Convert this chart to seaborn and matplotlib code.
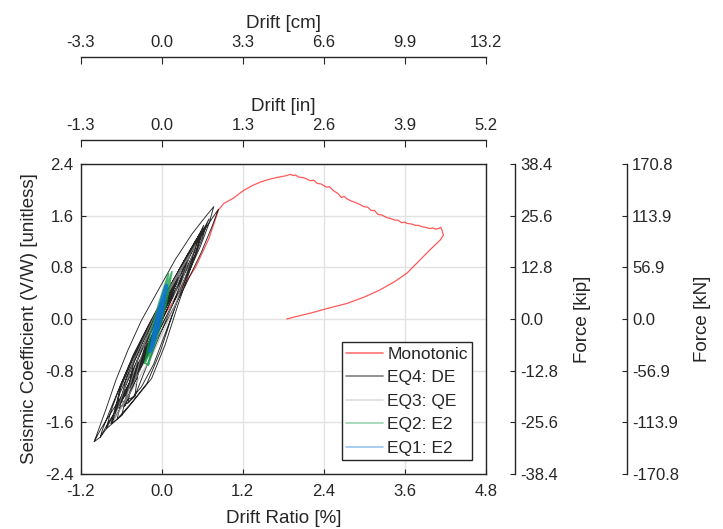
import pandas as pd
import matplotlib
matplotlib.use("Agg")
import matplotlib.pyplot as plt
import matplotlib.ticker as mticker
import seaborn as sns

# ---------------- data ----------------
mono_drift = [0.00, 0.25, 0.50, 0.70, 0.84, 0.92, 1.06, 1.21, 1.35, 1.46, 1.58, 1.70,
              1.80, 1.85,
              1.90, 1.95, 1.98, 2.02, 2.08, 2.12, 2.20, 2.25, 2.30, 2.36, 2.44, 2.48,
              2.55, 2.60, 2.66, 2.70, 2.74, 2.80, 2.85, 2.92, 2.99, 3.05, 3.10, 3.15,
              3.20, 3.26, 3.33, 3.38, 3.45, 3.50, 3.55, 3.60, 3.63, 3.70, 3.75, 3.80,
              3.85, 3.90, 3.97, 4.02, 4.05, 4.08, 4.10, 4.13, 4.15, 4.17,
              4.12, 3.97, 3.80, 3.63, 3.45, 3.23, 3.00, 2.74, 2.44, 2.20, 2.00, 1.85]
mono_coef = [0.00, 0.40, 0.80, 1.25, 1.69, 1.79, 1.87, 1.99, 2.07, 2.12, 2.16, 2.19,
             2.21, 2.22,
             2.24, 2.22, 2.23, 2.20, 2.19, 2.18, 2.14, 2.15, 2.10, 2.09, 2.04, 2.05,
             1.98, 1.95, 1.88, 1.90, 1.86, 1.83, 1.81, 1.78, 1.74, 1.73, 1.68, 1.68,
             1.62, 1.61, 1.57, 1.56, 1.53, 1.53, 1.49, 1.50, 1.48, 1.47, 1.45, 1.45,
             1.43, 1.42, 1.40, 1.41, 1.39, 1.40, 1.40, 1.42, 1.37, 1.30,
             1.22, 1.07, 0.89, 0.71, 0.58, 0.45, 0.34, 0.24, 0.16, 0.09, 0.04, 0.00]

eq4_drift = [-1.00, -0.90, -0.75, -0.55, -0.32, -0.08, 0.15, 0.38, 0.57, 0.70, 0.77,
             0.66, 0.45, 0.20, -0.05, -0.30, -0.50, -0.68, -0.82, -0.93, -1.00,
             -0.91, -0.80, -0.62, -0.40, -0.15, 0.10, 0.35, 0.58, 0.74, 0.84,
             0.74, 0.55, 0.30, 0.05, -0.20, -0.42, -0.62, -0.78, -0.88, -0.91,
             -0.82, -0.70, -0.50, -0.25, 0.00, 0.25, 0.47, 0.60, 0.66,
             0.55, 0.32, 0.08, -0.18, -0.42, -0.62, -0.76, -0.82,
             -0.59, -0.38, -0.15, 0.05, 0.25, 0.50, 0.62, 0.48, 0.20, -0.08, -0.32, -0.50, -0.59,
             -0.66, -0.45, -0.22, -0.02, 0.20, 0.45, 0.55, 0.42, 0.15, -0.12, -0.38, -0.56, -0.66,
             -0.75, -0.60, -0.33, -0.05, 0.25, 0.52, 0.70, 0.55, 0.25, -0.08, -0.38, -0.62, -0.75,
             -0.45, -0.30, -0.08, 0.15, 0.35, 0.45, 0.32, 0.08, -0.15, -0.35, -0.45,
             -0.35, -0.22, -0.02, 0.18, 0.30, 0.18, -0.05, -0.25, -0.35,
             -0.55, -0.40, -0.15, 0.10, 0.35, 0.50, 0.36, 0.08, -0.20, -0.42, -0.55,
             -0.25, -0.12, 0.05, 0.20, 0.08, -0.10, -0.25,
             -0.68, -0.52, -0.28, -0.02, 0.28, 0.48, 0.58, 0.44, 0.14, -0.15, -0.42, -0.60, -0.68,
             -0.50, -0.30, -0.12, 0.06, 0.26, 0.40, 0.52, 0.40, 0.12, -0.12, -0.35, -0.46, -0.50,
             -0.40, -0.25, -0.05, 0.15, 0.32, 0.40, 0.28, 0.05, -0.18, -0.33, -0.40,
             -0.62, -0.45, -0.22, 0.00, 0.22, 0.40, 0.52, 0.38, 0.12, -0.12, -0.36, -0.52, -0.62,
             -0.70, -0.55, -0.35, -0.12, 0.10, 0.30, 0.45, 0.56, 0.42, 0.20, -0.05, -0.28, -0.48, -0.62, -0.70]
eq4_coef = [-1.90, -1.70, -1.45, -1.12, -0.70, -0.25, 0.20, 0.68, 1.12, 1.48, 1.74,
            1.60, 1.32, 0.92, 0.45, -0.02, -0.48, -0.95, -1.38, -1.70, -1.90,
            -1.83, -1.62, -1.32, -0.92, -0.45, 0.02, 0.52, 1.02, 1.42, 1.70,
            1.55, 1.25, 0.82, 0.35, -0.12, -0.58, -1.05, -1.45, -1.72, -1.83,
            -1.70, -1.45, -1.10, -0.60, -0.10, 0.42, 0.92, 1.25, 1.45,
            1.28, 0.88, 0.42, -0.08, -0.58, -1.05, -1.45, -1.70,
            -1.49, -1.22, -0.92, -0.40, 0.25, 1.00, 1.45, 1.15, 0.60, 0.05, -0.50, -1.05, -1.49,
            -1.55, -1.30, -1.00, -0.50, 0.20, 0.95, 1.30, 1.02, 0.50, -0.02, -0.55, -1.10, -1.55,
            -1.62, -1.25, -0.65, -0.05, 0.55, 1.10, 1.55, 1.25, 0.70, 0.10, -0.50, -1.10, -1.62,
            -1.10, -0.70, -0.15, 0.40, 0.85, 1.10, 0.88, 0.40, -0.10, -0.62, -1.10,
            -0.85, -0.50, 0.00, 0.50, 0.85, 0.58, 0.08, -0.40, -0.85,
            -1.35, -0.95, -0.40, 0.20, 0.80, 1.20, 0.92, 0.40, -0.15, -0.70, -1.35,
            -0.60, -0.25, 0.15, 0.60, 0.30, -0.12, -0.60,
            -1.40, -1.00, -0.45, 0.10, 0.70, 1.10, 1.35, 1.10, 0.55, 0.00, -0.55, -1.00, -1.40,
            -1.30, -1.05, -0.70, -0.20, 0.35, 0.75, 1.05, 0.82, 0.30, -0.20, -0.70, -1.05, -1.30,
            -1.20, -0.80, -0.30, 0.20, 0.65, 0.95, 0.70, 0.25, -0.25, -0.70, -1.20,
            -1.30, -0.95, -0.45, 0.05, 0.55, 0.95, 1.25, 1.00, 0.50, 0.00, -0.50, -0.90, -1.30,
            -1.45, -1.15, -0.75, -0.28, 0.20, 0.62, 0.98, 1.25, 1.02, 0.62, 0.15, -0.35, -0.82, -1.15, -1.45]

eq3_drift = [-0.40, -0.09, 0.15, 0.30, -0.01, -0.25, -0.40,
             -0.70, -0.18, 0.22, 0.50, -0.02, -0.42, -0.70,
             -0.55, -0.13, 0.20, 0.42, 0.00, -0.33, -0.55]
eq3_coef = [-0.95, -0.37, 0.22, 0.80, 0.22, -0.37, -0.95,
            -1.55, -0.65, 0.25, 1.15, 0.25, -0.65, -1.55,
            -1.30, -0.53, 0.23, 1.00, 0.23, -0.53, -1.30]

eq2_drift = [-0.20, -0.05, 0.06, 0.15, 0.00, -0.11, -0.20,
             -0.25, -0.10, 0.02, 0.10, -0.04, -0.16, -0.25,
             -0.15, -0.03, 0.06, 0.12, 0.00, -0.09, -0.15]
eq2_coef = [-0.71, -0.23, 0.25, 0.73, 0.25, -0.23, -0.71,
            -0.68, -0.21, 0.25, 0.70, 0.25, -0.21, -0.68,
            -0.45, -0.12, 0.22, 0.55, 0.22, -0.12, -0.45]

eq1_drift = [-0.17, -0.07, 0.01, 0.07, -0.03, -0.11, -0.17,
             -0.14, -0.06, 0.00, 0.05, -0.03, -0.09, -0.14,
             -0.12, -0.05, 0.01, 0.04, -0.02, -0.08, -0.12]
eq1_coef = [-0.50, -0.16, 0.18, 0.52, 0.18, -0.16, -0.50,
            -0.42, -0.13, 0.16, 0.45, 0.16, -0.13, -0.42,
            -0.35, -0.11, 0.14, 0.38, 0.14, -0.11, -0.35]

ratio_ticks = [-1.2, 0.0, 1.2, 2.4, 3.6, 4.8]
coef_ticks = [-2.4, -1.6, -0.8, 0.0, 0.8, 1.6, 2.4]
in_ticks = [-1.3, 0.0, 1.3, 2.6, 3.9, 5.2]
cm_ticks = [-3.3, 0.0, 3.3, 6.6, 9.9, 13.2]
kip_ticks = [-38.4, -25.6, -12.8, 0.0, 12.8, 25.6, 38.4]
kn_ticks = [-170.8, -113.9, -56.9, 0.0, 56.9, 113.9, 170.8]

# ---------------- style ----------------
sns.set_style("white")
plt.rcParams["font.family"] = ["Liberation Sans", "DejaVu Sans"]
DARK = "#262626"
plt.rcParams["text.color"] = DARK
plt.rcParams["axes.labelcolor"] = DARK
plt.rcParams["xtick.color"] = DARK
plt.rcParams["ytick.color"] = DARK
plt.rcParams["axes.edgecolor"] = DARK
TICK_FS = 12
LAB_FS = 13.5

fig = plt.figure(figsize=(7.23, 5.29), dpi=100)
ax = fig.add_axes([0.1116, 0.104, 0.5606, 0.586])

# name, x, y, colour, alpha on plot, alpha in legend, width
series = [
    ("Monotonic", mono_drift, mono_coef, (1.0, 0.0, 0.0), 0.65, 0.55, 0.9),
    ("EQ4: DE", eq4_drift, eq4_coef, (0.0, 0.0, 0.0), 0.85, 0.5, 0.65),
    ("EQ3: QE", eq3_drift, eq3_coef, (0.7, 0.7, 0.7), 0.6, 0.45, 0.7),
    ("EQ2: E2", eq2_drift, eq2_coef, (0.05, 0.6, 0.25), 0.75, 0.42, 1.3),
    ("EQ1: E2", eq1_drift, eq1_coef, (0.05, 0.45, 0.85), 0.85, 0.42, 2.4),
]
for name, xs, ys, col, a, _, lw in series:
    df = pd.DataFrame({"drift": xs, "coef": ys})
    sns.lineplot(data=df, x="drift", y="coef", sort=False, estimator=None,
                 color=col, alpha=a, linewidth=lw, label=name, ax=ax)

ax.set_xlim(-1.2, 4.8)
ax.set_ylim(-2.4, 2.4)
ax.set_xticks(ratio_ticks)
ax.set_yticks(coef_ticks)
ax.xaxis.set_major_formatter(mticker.FormatStrFormatter("%.1f"))
ax.yaxis.set_major_formatter(mticker.FormatStrFormatter("%.1f"))
ax.grid(True, color="#e2e2e2", linewidth=1)
ax.set_axisbelow(True)
ax.tick_params(direction="in", top=True, right=True, length=3.5, width=0.8,
               labelsize=TICK_FS)
ax.tick_params(axis="x", pad=7)
ax.tick_params(axis="y", pad=5)
for s in ax.spines.values():
    s.set_linewidth(1.0)
ax.set_xlabel("Drift Ratio [%]", fontsize=LAB_FS, labelpad=8)
ax.set_ylabel("Seismic Coefficient (V/W) [unitless]", fontsize=LAB_FS, labelpad=5)

leg = ax.legend(loc="lower right", fontsize=12.5, frameon=True, fancybox=False,
                edgecolor=DARK, framealpha=1, handlelength=2.1, handletextpad=0.25,
                labelspacing=0.48, borderpad=0.25, borderaxespad=0.8)
leg.get_frame().set_linewidth(1.0)
for line, s in zip(leg.get_lines(), series):
    line.set_alpha(s[5])
    line.set_linewidth(1.2)

# ---------------- extra top axes ----------------
def top_axis(pos, lim, ticks, label):
    t = ax.twiny()
    t.set_xlim(*lim)
    t.set_xticks(ticks)
    t.xaxis.set_major_formatter(mticker.FormatStrFormatter("%.1f"))
    for k in ["left", "right", "bottom"]:
        t.spines[k].set_visible(False)
    t.spines["top"].set_position(("axes", pos))
    t.spines["top"].set_linewidth(1.0)
    t.tick_params(axis="x", direction="in", length=5, width=0.8, pad=5,
                  labelsize=TICK_FS, bottom=False, labelbottom=False)
    t.tick_params(axis="y", left=False, right=False, labelleft=False, labelright=False)
    t.set_xlabel(label, fontsize=LAB_FS, labelpad=5)
    t.grid(False)
    return t

top_axis(1.0774, (-1.3, 5.2), in_ticks, "Drift [in]")
top_axis(1.345, (-3.3, 13.2), cm_ticks, "Drift [cm]")

# ---------------- extra right axes ----------------
def right_axis(pos, lim, ticks, label, pad):
    r = ax.twinx()
    r.set_ylim(*lim)
    r.set_yticks(ticks)
    r.yaxis.set_major_formatter(mticker.FormatStrFormatter("%.1f"))
    for k in ["left", "top", "bottom"]:
        r.spines[k].set_visible(False)
    r.spines["right"].set_position(("axes", pos))
    r.spines["right"].set_linewidth(1.0)
    r.tick_params(axis="y", direction="in", length=3.5, width=0.8, pad=4,
                  labelsize=TICK_FS, left=False, labelleft=False)
    r.tick_params(axis="x", top=False, bottom=False, labeltop=False, labelbottom=False)
    r.set_ylabel(label, fontsize=LAB_FS, labelpad=pad)
    r.grid(False)
    return r

right_axis(1.0716, (-38.4, 38.4), kip_ticks, "Force [kip]", 11)
right_axis(1.347, (-170.8, 170.8), kn_ticks, "Force [kN]", 11)

fig.savefig("out.png", dpi=100)
